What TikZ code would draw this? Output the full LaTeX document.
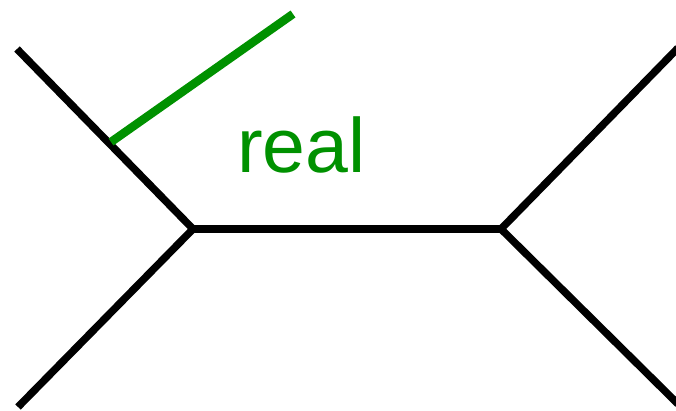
\documentclass[tikz,border=0pt]{standalone}
\usepackage{fontspec}
\setmainfont{Liberation Sans}
\definecolor{realgreen}{RGB}{0,145,0}
\begin{document}
\begin{tikzpicture}[x=1pt,y=-1pt,
  leg/.style={line width=7.5pt, black},
  cut/.style={line width=8.5pt, realgreen},
  lbl/.style={text=realgreen, font=\fontsize{77}{77}\selectfont, inner sep=0pt, anchor=base west}]
  \useasboundingbox (0,0) rectangle (676,411);
  % vertices of the exchange diagram
  \coordinate (v1) at (193,229);
  \coordinate (v2) at (501,229);
  % external legs
  \coordinate (tl) at (17,49);
  \coordinate (bl) at (18,407);
  \coordinate (tr) at (678,48);
  \coordinate (br) at (678,404);
  \draw[leg] (tl) -- (v1);
  \draw[leg] (bl) -- (v1);
  \draw[leg] (v1) -- (v2);
  \draw[leg] (v2) -- (tr);
  \draw[leg] (v2) -- (br);
  % cut line and its label
  \coordinate (c1) at (111,142);
  \coordinate (c2) at (293,14);
  \draw[cut] (c1) -- (c2);
  \node[lbl] (real) at (237,173) {real};
\end{tikzpicture}
\end{document}
